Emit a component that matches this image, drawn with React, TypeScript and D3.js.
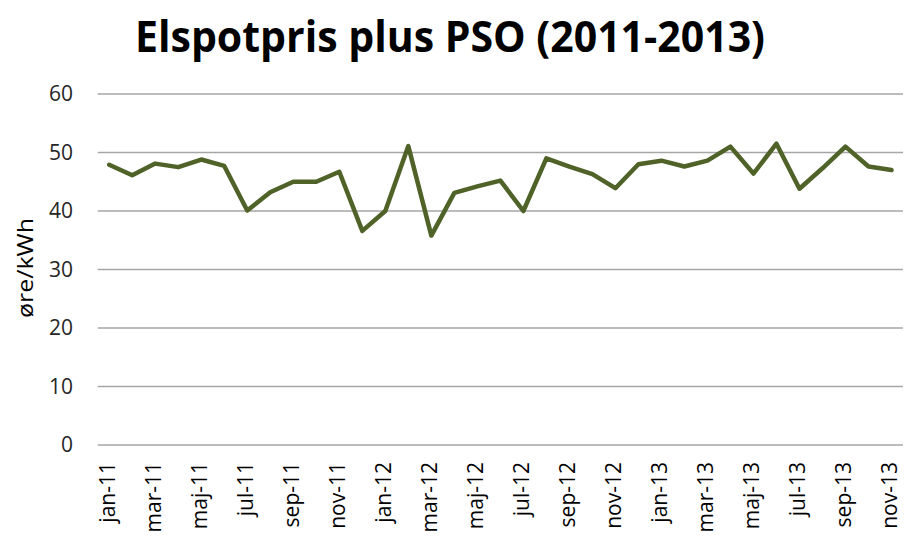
import React from "react";
import * as d3 from "d3";

const monthNames = ["jan", "feb", "mar", "apr", "maj", "jun", "jul", "aug", "sep", "okt", "nov", "dec"];
const years = ["11", "12", "13"];

const values2011 = [47.9, 46.1, 48.1, 47.5, 48.8, 47.7, 40.1, 43.2, 45.0, 45.0, 46.7, 36.6];
const values2012 = [40.0, 51.1, 35.8, 43.1, 44.2, 45.2, 40.0, 49.0, 47.6, 46.3, 43.9, 48.0];
const values2013 = [48.6, 47.6, 48.6, 51.0, 46.4, 51.5, 43.8, 47.3, 51.0, 47.6, 47.0];

const yTicks = [0, 10, 20, 30, 40, 50, 60];

const categories: string[] = [];
years.forEach((y, yi) => {
  const n = yi === 2 ? 11 : 12;
  for (let m = 0; m < n; m++) categories.push(`${monthNames[m]}-${y}`);
});
const values = [...values2011, ...values2012, ...values2013];

const width = 904;
const height = 538;
const margin = { top: 94, right: 1, bottom: 93, left: 97.7 };

const App: React.FC = () => {
  const x = d3
    .scaleBand<string>()
    .domain(categories)
    .range([margin.left, width - margin.right]);

  const y = d3
    .scaleLinear()
    .domain([0, 60])
    .range([height - margin.bottom, margin.top]);

  const line = d3
    .line<number>()
    .x((_, i) => (x(categories[i]) ?? 0) + x.bandwidth() / 2)
    .y(d => y(d));

  const font = "'Open Sans', 'DejaVu Sans', sans-serif";

  return (
    <svg
      width={width}
      height={height}
      style={{ position: "absolute", left: 0, top: 0, background: "#fff" }}
    >
      <text
        x={450}
        y={52}
        textAnchor="middle"
        fontFamily={font}
        fontWeight="bold"
        fontSize={43}
        textLength={630}
        lengthAdjust="spacingAndGlyphs"
        fill="#000"
      >
        Elspotpris plus PSO (2011-2013)
      </text>

      {yTicks.map(t => (
        <g key={t}>
          <line
            x1={margin.left}
            x2={width - margin.right}
            y1={y(t)}
            y2={y(t)}
            stroke="#a6a6a6"
            strokeWidth={1.5}
          />
          <text
            x={73}
            y={y(t)}
            dy="0.35em"
            textAnchor="end"
            fontFamily={font}
            fontSize={21}
            fill="#262626"
          >
            {t}
          </text>
        </g>
      ))}

      <text
        transform={`translate(33, 268) rotate(-90)`}
        textAnchor="middle"
        fontFamily={font}
        fontSize={22}
        textLength={100}
        lengthAdjust="spacingAndGlyphs"
        fill="#000"
      >
        øre/kWh
      </text>

      {categories.map((c, i) =>
        i % 2 === 0 ? (
          <text
            key={c}
            transform={`translate(${(x(c) ?? 0) + x.bandwidth() / 2 + 6}, ${height - margin.bottom + 17}) rotate(-90)`}
            textAnchor="end"
            fontFamily={font}
            fontSize={21}
            fill="#000"
          >
            {c}
          </text>
        ) : null
      )}

      <path
        d={line(values) ?? ""}
        fill="none"
        stroke="#4f6228"
        strokeWidth={4.5}
        strokeLinejoin="round"
        strokeLinecap="round"
      />
    </svg>
  );
};

export default App;
